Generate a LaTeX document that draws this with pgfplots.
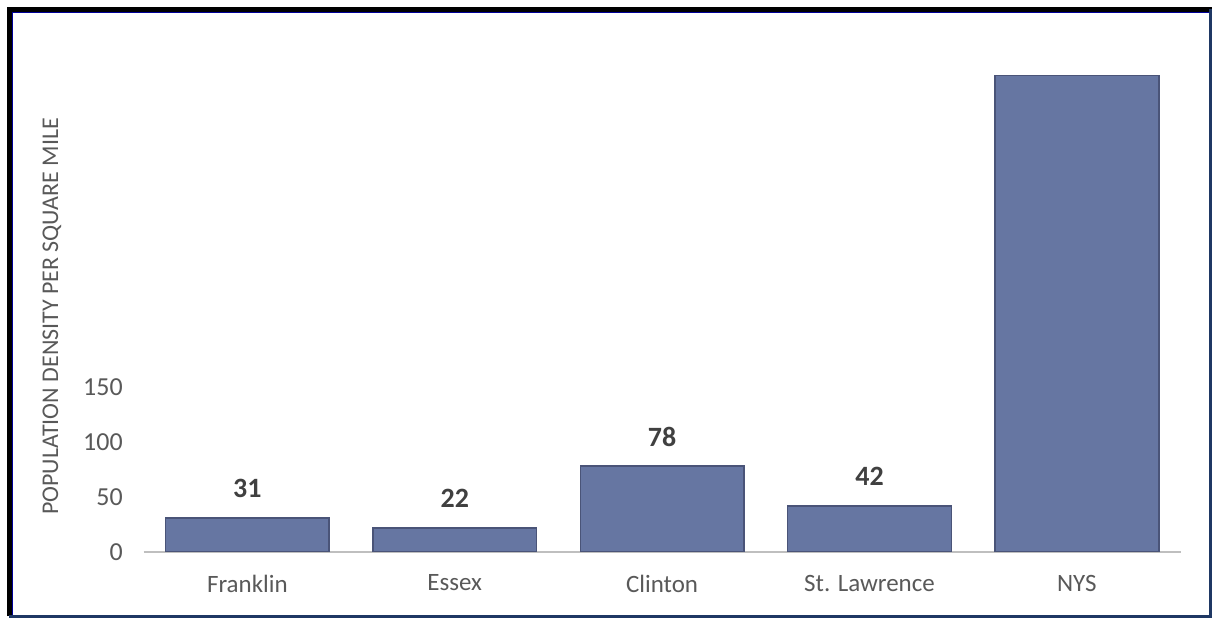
\documentclass[border=0pt]{standalone}
\usepackage{pgfplots}
\pgfplotsset{compat=1.18}
\usepackage{fontspec}
\setmainfont{Carlito}
\definecolor{barfill}{HTML}{6676A2}
\definecolor{baredge}{HTML}{4A5478}
\definecolor{ticktext}{HTML}{595959}
\definecolor{labeltext}{HTML}{404040}
\definecolor{axisgray}{HTML}{BFBFBF}
\definecolor{framenavy}{HTML}{1F3864}
\begin{document}
\begin{tikzpicture}
\path[fill=white] (0,0) rectangle (607pt,309.5pt);
\begin{axis}[
  at={(72pt,33pt)}, anchor=south west,
  scale only axis, width=519.5pt, height=242pt,
  xmin=-0.5, xmax=4.5, ymin=0, ymax=440,
  axis x line*=bottom, axis y line*=left,
  x axis line style={axisgray, line width=1pt, -},
  y axis line style={draw=none},
  major tick length=0pt,
  xtick={0,1,2,3,4},
  xticklabels={Franklin,Essex,Clinton,St. Lawrence,NYS},
  ytick={0,50,100,150},
  ticklabel style={color=ticktext},
  xticklabel style={yshift=-8pt, font=\fontsize{12.5}{14}\selectfont},
  yticklabel style={xshift=-7pt, font=\fontsize{13}{15}\selectfont},
  /pgf/number format/assume math mode=true,
  ylabel={POPULATION DENSITY PER SQUARE MILE},
  ylabel style={at={(axis description cs:-0.0885,0.4876)}, anchor=center, font=\fontsize{12}{14}\selectfont, color=ticktext},
  ybar, bar width=82pt,
  every node near coord/.append style={anchor=center, yshift=14.5pt, font=\bfseries\fontsize{14}{16}\selectfont, color=labeltext},
]
\addplot[fill=barfill, draw=baredge, line width=0.8pt, bar shift=0pt, nodes near coords] coordinates {(0,31) (1,22) (2,78) (3,42)};
\addplot[fill=barfill, draw=baredge, line width=0.8pt, bar shift=0pt] coordinates {(4,434)};
\end{axis}
\draw[black, line width=2.5pt] (4.75pt,0.75pt) -- (4.75pt,304.75pt) -- (607pt,304.75pt);
\draw[framenavy, line width=1.5pt] (606.25pt,304.75pt) -- (606.25pt,0.75pt) -- (4.75pt,0.75pt);
\draw[blue!60!black, line width=0.5pt] (6.25pt,1.5pt) -- (6.25pt,303.25pt) -- (605.5pt,303.25pt);
\end{tikzpicture}
\end{document}
